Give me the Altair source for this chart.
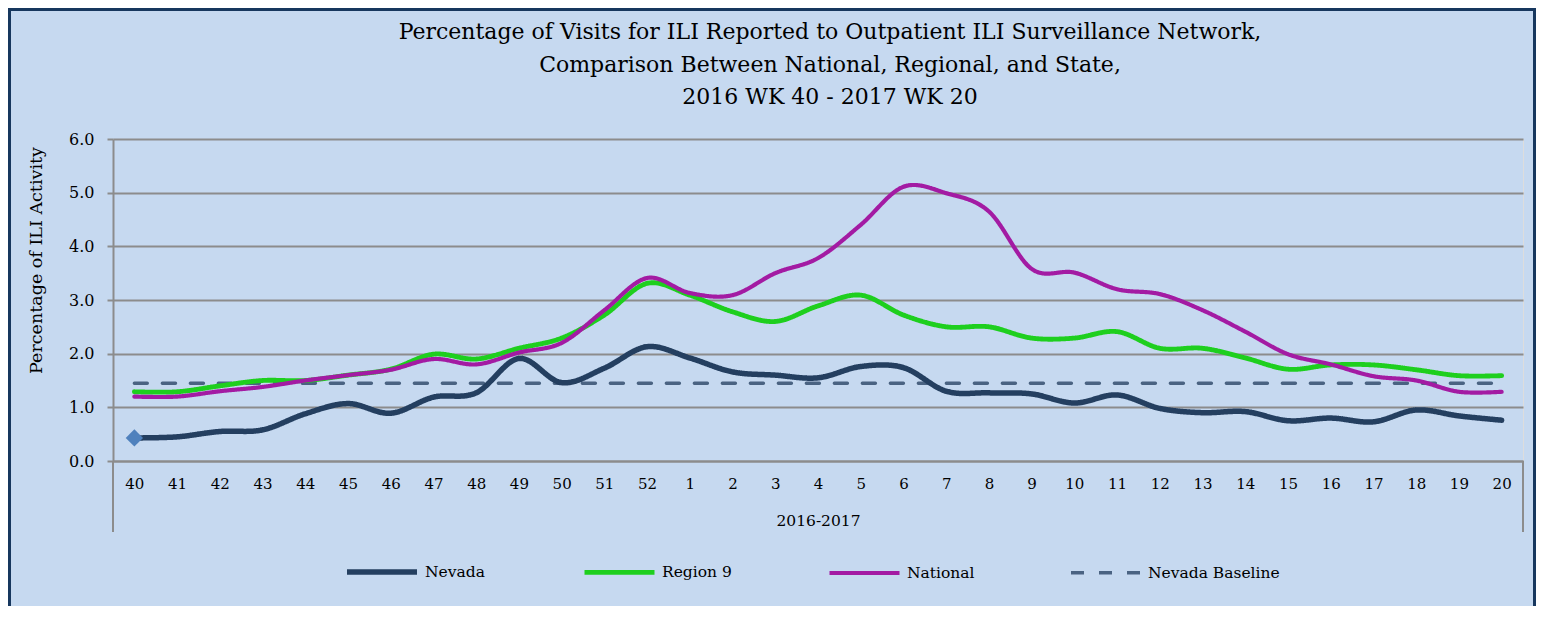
import altair as alt
import pandas as pd

WEEKS = ["40", "41", "42", "43", "44", "45", "46", "47", "48", "49", "50", "51", "52",
         "1", "2", "3", "4", "5", "6", "7", "8", "9", "10", "11", "12", "13", "14",
         "15", "16", "17", "18", "19", "20"]
NEVADA = [0.43, 0.45, 0.55, 0.58, 0.88, 1.07, 0.89, 1.19, 1.27, 1.91, 1.46, 1.73, 2.13,
          1.92, 1.66, 1.60, 1.55, 1.76, 1.74, 1.30, 1.27, 1.25, 1.08, 1.23, 0.98, 0.90,
          0.92, 0.75, 0.80, 0.73, 0.95, 0.84, 0.76]
REGION9 = [1.29, 1.29, 1.40, 1.50, 1.50, 1.60, 1.71, 1.99, 1.90, 2.10, 2.29, 2.72, 3.31,
           3.09, 2.78, 2.60, 2.89, 3.09, 2.72, 2.50, 2.50, 2.29, 2.29, 2.41, 2.10, 2.10,
           1.92, 1.71, 1.79, 1.79, 1.70, 1.59, 1.59]
NATIONAL = [1.20, 1.20, 1.30, 1.38, 1.50, 1.60, 1.70, 1.90, 1.80, 2.02, 2.20, 2.81, 3.41,
            3.13, 3.09, 3.50, 3.78, 4.40, 5.11, 4.99, 4.65, 3.58, 3.51, 3.20, 3.11, 2.81,
            2.41, 1.99, 1.80, 1.58, 1.50, 1.29, 1.29]
BASELINE = 1.45

TITLE_LINES = ["Percentage of Visits for ILI Reported to Outpatient ILI Surveillance Network,",
               "Comparison Between National, Regional, and State,",
               "2016 WK 40 - 2017 WK 20"]

SERIES = ["Nevada", "Region 9", "National", "Nevada Baseline"]
COLORS = ["#243F60", "#1ECF1E", "#A31BA3", "#4A6382"]
WIDTHS = [5.5, 3.5, 3.5, 4]
DASHES = [[1, 0], [1, 0], [1, 0], [13, 15]]

rows = []
for i, w in enumerate(WEEKS):
    rows.append({"week": w, "series": "Nevada", "value": NEVADA[i]})
    rows.append({"week": w, "series": "Region 9", "value": REGION9[i]})
    rows.append({"week": w, "series": "National", "value": NATIONAL[i]})
    rows.append({"week": w, "series": "Nevada Baseline", "value": BASELINE})
df = pd.DataFrame(rows)

FONT = "DejaVu Serif"
W, H = 1410, 322

x_enc = alt.X("week:N", sort=WEEKS, scale=alt.Scale(type="point", padding=0.5),
              axis=alt.Axis(title="2016-2017", labelAngle=0, ticks=False, grid=False,
                            domainColor="#8C8C8C", domainWidth=2,
                            labelFont=FONT, labelFontSize=15, labelColor="#000000",
                            labelPadding=15,
                            titleFont=FONT, titleFontSize=15.5, titleFontWeight="normal",
                            titleColor="#000000", titleX=W / 2, titleY=59,
                            titleBaseline="middle"))
y_enc = alt.Y("value:Q", scale=alt.Scale(domain=[0, 6], nice=False),
              axis=alt.Axis(title="Percentage of ILI Activity", values=[0, 1, 2, 3, 4, 5, 6],
                            format=".1f", grid=True, gridColor="#8C8C8C", gridWidth=2,
                            domainColor="#8C8C8C", domainWidth=2, tickColor="#8C8C8C",
                            tickWidth=2, tickSize=6, labelPadding=13,
                            labelFont=FONT, labelFontSize=16, labelColor="#000000",
                            titleFont=FONT, titleFontSize=17.5, titleFontWeight="normal",
                            titleColor="#000000", titleX=-77, titleY=121,
                            titleAlign="center", titleBaseline="middle"))

legend = alt.Legend(title=None, orient="none", legendX=231, legendY=395,
                    direction="horizontal", symbolType="stroke", symbolSize=4900,
                    labelFont=FONT, labelFontSize=15.5, labelColor="#000000",
                    labelOffset=5, columnPadding=89)

base = alt.Chart(df).mark_line(interpolate="cardinal", strokeCap="round").encode(
    x=x_enc,
    y=y_enc,
    color=alt.Color("series:N", scale=alt.Scale(domain=SERIES, range=COLORS), legend=legend),
    strokeWidth=alt.StrokeWidth("series:N", scale=alt.Scale(domain=SERIES, range=WIDTHS),
                                legend=legend),
    strokeDash=alt.StrokeDash("series:N", scale=alt.Scale(domain=SERIES, range=DASHES),
                              legend=legend),
)

layers = [base.transform_filter(alt.datum.series == s)
          for s in ["Nevada Baseline", "Region 9", "National", "Nevada"]]

marker = alt.Chart(pd.DataFrame({"week": [WEEKS[0]], "value": [NEVADA[0]]})).mark_point(
    shape="diamond", filled=True, size=300, color="#4F81BD", opacity=1
).encode(x=alt.X("week:N", sort=WEEKS), y="value:Q")

frame_df = pd.DataFrame({"a": [0]})
frame = alt.Chart(frame_df).mark_rect(fillOpacity=0, stroke="#17375E", strokeWidth=3).encode(
    x=alt.value(-103.5), x2=alt.value(1421.5), y=alt.value(-129.5), y2=alt.value(480))
box_l = alt.Chart(frame_df).mark_rule(color="#8C8C8C", strokeWidth=2).encode(
    x=alt.value(0), y=alt.value(H), y2=alt.value(393))
box_r = alt.Chart(frame_df).mark_rule(color="#8C8C8C", strokeWidth=2).encode(
    x=alt.value(W), y=alt.value(H), y2=alt.value(393))

title_layers = [
    alt.Chart(frame_df).mark_text(font=FONT, fontSize=22, color="#000000", align="center",
                                  baseline="alphabetic").encode(
        text=alt.value(line), x=alt.value(W / 2 + 12), y=alt.value(yy))
    for line, yy in zip(TITLE_LINES, [-100, -67, -35])
]

chart = alt.layer(frame, box_l, box_r, *layers, marker, *title_layers).properties(
    width=W, height=H,
    autosize=alt.AutoSizeParams(type="none"),
    padding={"left": 105, "top": 131, "right": 13, "bottom": 145},
).configure_view(stroke=None, fill="#FFFFFF").configure(background="#C6D9F0")

chart.save("out.html", embed_options={"renderer": "svg", "actions": False})
